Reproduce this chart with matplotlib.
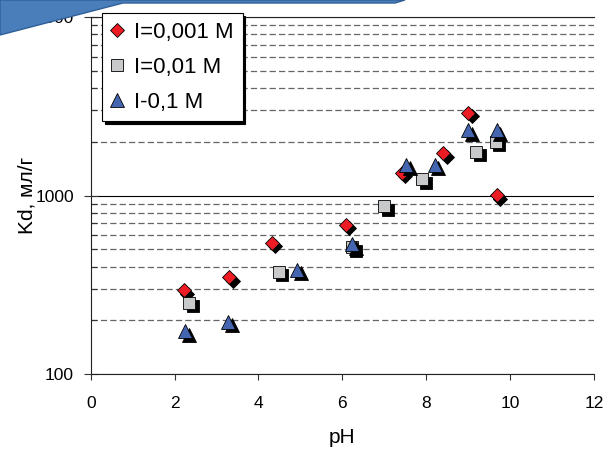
import matplotlib
matplotlib.use("Agg")
import matplotlib.pyplot as plt
from matplotlib.patches import Polygon
from matplotlib.ticker import FixedLocator, LogLocator, FuncFormatter, NullFormatter
from matplotlib.transforms import offset_copy

plt.rcParams['font.family'] = ['Liberation Sans', 'DejaVu Sans']

# Kd vs pH at three ionic strengths
ph_001 = [2.22, 3.30, 4.32, 6.08, 7.42, 8.40, 9.00, 9.68]
kd_001 = [295, 349, 542, 684, 1340, 1730, 2900, 1005]

ph_01 = [2.35, 4.48, 6.23, 7.00, 7.90, 9.19, 9.66]
kd_01 = [250, 373, 514, 873, 1237, 1753, 1995]

ph_1 = [2.25, 3.28, 4.92, 6.23, 7.52, 8.20, 9.00, 9.68]
kd_1 = [174, 196, 383, 535, 1483, 1483, 2328, 2328]

labels = ['I=0,001 M', 'I=0,01 M', 'I-0,1 M']
x_ticks = [0, 2, 4, 6, 8, 10, 12]
y_ticks = [100, 1000, 10000]

fig = plt.figure(figsize=(6.06, 4.55), dpi=100)
ax = fig.add_axes([0.1497, 0.178, 0.8305, 0.7846])

series = [
    (ph_001, kd_001, 'D', 7.2, '#ED1C24'),
    (ph_01, kd_01, 's', 9.3, '#C8C9CA'),
    (ph_1, kd_1, '^', 10.5, '#4466B0'),
]

# black drop shadow under every marker
shadow_tr = offset_copy(ax.transData, fig=fig, x=3.5, y=-3.5, units='dots')
handles = []
for (x, y, m, ms, c), lab in zip(series, labels):
    ax.plot(x, y, ls='none', marker=m, ms=ms, mfc='black', mec='black',
            mew=0.6, transform=shadow_tr, zorder=3)
    h, = ax.plot(x, y, ls='none', marker=m, ms=ms, mfc=c, mec='black',
                 mew=0.6, label=lab, zorder=3)
    handles.append(h)

ax.set_yscale('log')
ax.set_xlim(0, 12)
ax.set_ylim(100, 10000)

ax.xaxis.set_major_locator(FixedLocator(x_ticks))
ax.yaxis.set_major_locator(FixedLocator(y_ticks))
ax.yaxis.set_major_formatter(FuncFormatter(lambda v, _: f'{v:.0f}'))
ax.yaxis.set_minor_locator(LogLocator(base=10, subs=range(2, 10)))
ax.yaxis.set_minor_formatter(NullFormatter())

ax.tick_params(axis='x', direction='out', length=4.5, width=0.8, pad=11,
               labelsize=12.5, color='#333333')
ax.tick_params(axis='y', which='major', direction='inout', length=10,
               width=0.8, pad=7, labelsize=12.5, color='#333333')
ax.tick_params(axis='y', which='minor', direction='in', length=4.5,
               width=0.8, color='#333333')

ax.grid(True, axis='y', which='major', color='black', lw=0.8, ls='-')
ax.grid(True, axis='y', which='minor', color='#666666', lw=0.9,
        ls=(0, (5, 2.5)))
ax.set_axisbelow(True)

for side in ['left', 'bottom', 'top']:
    ax.spines[side].set_linewidth(0.8)
    ax.spines[side].set_color('#222222')
ax.spines['right'].set_visible(False)

ax.set_xlabel('pH', fontsize=15)
ax.set_ylabel('Kd, мл/г', fontsize=15)
ax.xaxis.set_label_coords(0.5, -0.152)
ax.yaxis.set_label_coords(-0.108, 0.5)

leg = ax.legend(handles=handles, loc='upper left',
                bbox_to_anchor=(0.022, 1.011), fontsize=16, frameon=True,
                fancybox=False, edgecolor='black', framealpha=1,
                shadow={'color': 'black', 'alpha': 1},
                borderpad=0.4, labelspacing=0.62, handlelength=0.6,
                handletextpad=0.45, borderaxespad=0)
leg.get_frame().set_linewidth(0.8)
leg.set_zorder(5)

# blue slide banner across the top-left corner
W, H = 606, 455
pts = [(0, 0), (0, 35), (123, 3), (395, 3), (405, 0)]
banner = Polygon([(px / W, 1 - py / H) for px, py in pts], closed=True,
                 transform=fig.transFigure, facecolor='#4A7EBB',
                 edgecolor='#2F5F97', lw=1, zorder=10)
fig.add_artist(banner)

fig.savefig('out.png', dpi=100)
